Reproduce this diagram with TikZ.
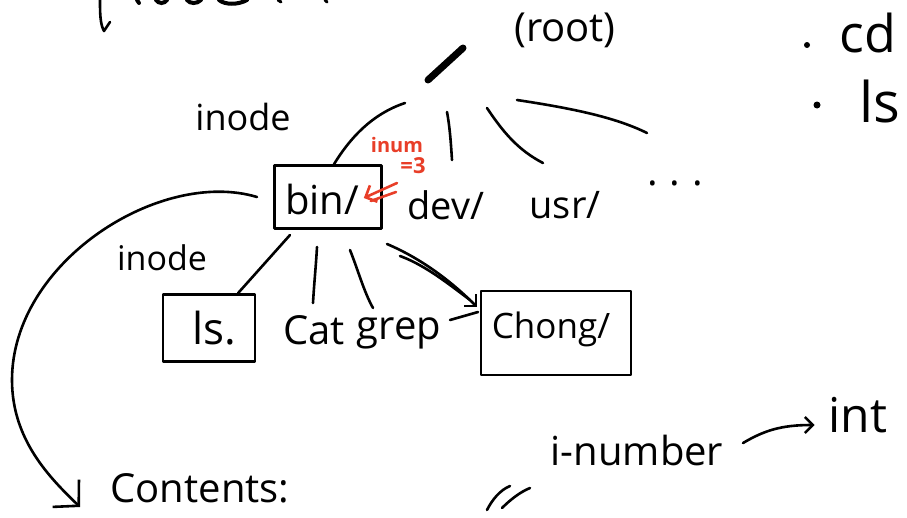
\documentclass[tikz,border=0pt]{standalone}
\usepackage{fontspec}
\setmainfont{Open Sans}
\usetikzlibrary{arrows.meta,calc}
\definecolor{inkred}{RGB}{232,62,40}
\newcommand{\hfs}[1]{\fontsize{#1}{#1}\selectfont}
\begin{document}
\begin{tikzpicture}[x=1pt,y=-1pt,
  ink/.style={line width=2.6pt, line cap=round, line join=round},
  hw/.style={inner sep=0pt},
  boxnode/.style={draw, line width=2.6pt, inner sep=0pt, line join=round},
  bigtip/.style={-{Straight Barb[length=18pt,width=38pt,line width=2.6pt]}},
  smalltip/.style={-{Straight Barb[length=8pt,width=16pt,line width=2.4pt]}},
  redtip/.style={-{Straight Barb[length=9pt,width=18pt,line width=2.6pt]}}]
\useasboundingbox (0,0) rectangle (907,517);

% ---- cut-off heading at top left ----
\draw[ink] (100,0) .. controls (100,12) and (100,24) .. (104,31) -- (110,22);
\draw[line width=4pt, line cap=round] (137,0) -- (139,3);
\draw[line width=4pt, line cap=round] (156,0) .. controls (159,4) and (164,4) .. (167,0);
\draw[line width=4pt, line cap=round] (187,0) .. controls (190,4) and (197,4) .. (201,0);
\draw[line width=4pt, line cap=round] (219,0) .. controls (225,5) and (238,5) .. (247,0);
\draw[line width=3pt, line cap=round] (278,0) -- (281,2);
\draw[line width=3pt, line cap=round] (325,0) -- (327,2);

% ---- top level ----
\node[hw, font=\hfs{40}] (root) at (565,30) {(root)};
\coordinate (rs1) at (428,80);
\coordinate (rs2) at (463,48);
\draw[line width=7pt, line cap=round] (rs1) -- (rs2);

\node[hw, font=\hfs{36}] (inode1) at (243,117) {inode};

\node[boxnode, minimum width=107pt, minimum height=63pt] (bin) at (328,197) {};
\node[hw, font=\hfs{40}] (bintxt) at (322,199) {bin/};
\node[hw, font=\hfs{38}] (dev) at (446,205) {dev/};
\node[hw, font=\hfs{38}] (usr) at (565,205) {usr/};
\node[hw, font=\hfs{40}] (dots) at (675,183) {.\hspace{12pt}.\hspace{12pt}.};

\coordinate (r1) at (405,103);
\coordinate (r2) at (447,112);
\coordinate (r3) at (487,108);
\coordinate (r4) at (517,100);
\coordinate (devtop) at (452,160);
\coordinate (usrtop) at (543,163);
\coordinate (moretop) at (647,133);
\draw[ink] (r1) .. controls (372,114) and (350,138) .. ($(bin.north)+(6,0)$);
\draw[ink] (r2) .. controls (450,128) and (451,145) .. (devtop);
\draw[ink] (r3) .. controls (503,132) and (518,150) .. (usrtop);
\draw[ink] (r4) .. controls (570,108) and (615,117) .. (moretop);

% red annotation
\node[hw, font=\hfs{20}\bfseries, text=inkred] (inum) at (397,145) {inum};
\node[hw, font=\hfs{22}\bfseries, text=inkred] (eq3) at (413,166) {=3};
\coordinate (redtail) at (397,183);
\coordinate (redtail2) at (396,192);
\draw[line width=2.6pt, inkred, line cap=round, redtip] (redtail) -- ($(bin.east)+(-19,1)$);
\draw[line width=2.6pt, inkred, line cap=round] (redtail2) -- ($(bin.east)+(-12,4)$);

% ---- second level ----
\node[hw, font=\hfs{34}] (inode2) at (162,258) {inode};
\node[boxnode, minimum width=92pt, minimum height=67pt] (ls) at (209,328) {};
\node[hw, font=\hfs{44}] (lstxt) at (214,328) {ls.};
\node[hw, font=\hfs{40}] (cat) at (314,330) {Cat};
\node[hw, font=\hfs{40}] (grep) at (399,333) {grep};
\node[boxnode, minimum width=150pt, minimum height=84pt] (chong) at (556,333) {};
\node[hw, font=\hfs{35}] (chongtxt) at (551,329) {Chong/};

\coordinate (b1) at (290,235);
\coordinate (b2) at (317,247);
\coordinate (b3) at (350,250);
\coordinate (b4) at (387,244);
\coordinate (b5) at (400,256);
\coordinate (cattop) at (313,303);
\coordinate (greptop) at (373,308);
\coordinate (chongtip) at (477,307);
\coordinate (chong2) at (470,300);
\coordinate (dash1) at (450,320);
\coordinate (dash2) at (478,312);
\draw[ink] (b1) -- ($(ls.north)+(29,0)$);
\draw[ink] (b2) .. controls (316,265) and (314,285) .. (cattop);
\draw[ink] (b3) .. controls (358,270) and (364,292) .. (greptop);
\draw[ink, smalltip] (b4) .. controls (420,258) and (450,280) .. (chongtip);
\draw[ink] (b5) .. controls (425,265) and (450,285) .. (chong2);
\draw[ink] (dash1) -- (dash2);

% ---- contents arrow ----
\coordinate (cstart) at (257,197);
\coordinate (cmid) at (12,380);
\coordinate (cend) at (80,507);
\draw[ink, bigtip] (cstart) .. controls (160,168) and (12,262) .. (cmid)
      .. controls (12,440) and (50,478) .. (cend);
\node[hw, font=\hfs{40}] (contents) at (200,488) {Contents:};

% ---- bottom right ----
\node[hw, font=\hfs{40}] (inumber) at (637,450) {i-number};
\node[hw, font=\hfs{48}] (int) at (858,415) {int};
\coordinate (arrs) at (743,443);
\draw[ink, smalltip] (arrs) .. controls (765,430) and (782,425) .. ($(int.west)+(-14,10)$);
\coordinate (sl1a) at (487,510);
\coordinate (sl1b) at (510,486);
\coordinate (sl2a) at (502,508);
\coordinate (sl2b) at (530,488);
\draw[ink] (sl1a) .. controls (492,500) and (500,490) .. (sl1b);
\draw[ink] (sl2a) .. controls (510,500) and (520,492) .. (sl2b);

% ---- top right ----
\node[hw, font=\hfs{52}] (cd) at (868,33) {cd};
\node[hw, font=\hfs{56}] (lsr) at (880,101) {ls};
\fill (807,45) circle (3pt);
\fill (817,105) circle (3.5pt);
\end{tikzpicture}
\end{document}
